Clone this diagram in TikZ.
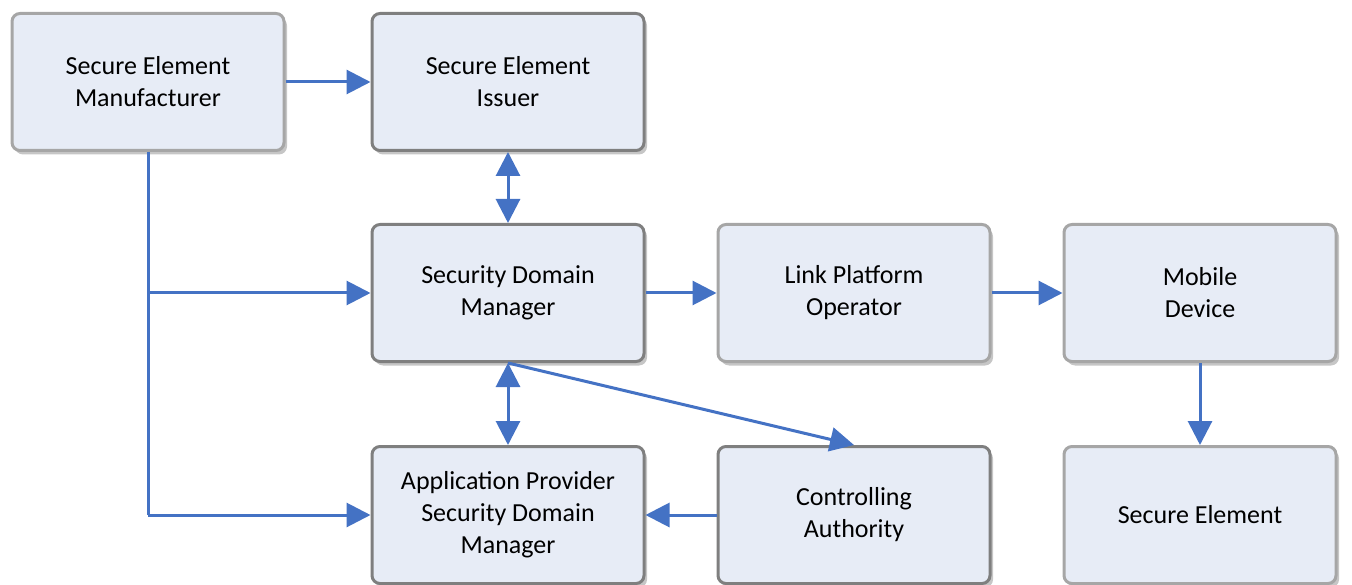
\documentclass[tikz,border=0pt]{standalone}
\usepackage{fontspec}
\setmainfont{Carlito}
\usetikzlibrary{shadows,arrows.meta}
\definecolor{boxfill}{HTML}{E7ECF6}
\definecolor{lightborder}{HTML}{A6A6A6}
\definecolor{darkborder}{HTML}{7F7F7F}
\definecolor{conn}{HTML}{4472C4}
\tikzset{
  box/.style={draw=#1, line width=3pt, fill=boxfill, rounded corners=8pt,
    minimum width=272pt, minimum height=137pt, align=center, inner sep=0pt,
    font=\fontsize{26}{32}\selectfont,
    drop shadow={opacity=0.45, shadow xshift=3pt, shadow yshift=-4pt}},
  conline/.style={draw=conn, line width=3pt},
  arr/.style={conline, -{Triangle[length=24pt,width=24pt]}},
  darr/.style={conline, {Triangle[length=24pt,width=24pt]}-{Triangle[length=24pt,width=24pt]}}
}
\begin{document}
\begin{tikzpicture}[x=1pt,y=-1pt]
\useasboundingbox (0,0) rectangle (1352,585);
\node[box=lightborder] (sem) at (148,82) {Secure Element\\Manufacturer};
\node[box=darkborder] (sei) at (508,82) {Secure Element\\Issuer};
\node[box=darkborder] (sdm) at (508,293) {Security Domain\\Manager};
\node[box=lightborder] (lpo) at (854,293) {Link Platform\\Operator};
\node[box=lightborder] (md) at (1200,293) {Mobile\\Device};
\node[box=darkborder] (ap) at (508,515) {Application Provider\\Security Domain\\Manager};
\node[box=darkborder] (ca) at (854,515) {Controlling\\Authority};
\node[box=lightborder] (se) at (1200,515) {Secure Element};
\coordinate (branch) at (148,293);
\coordinate (corner) at (148,515);
\draw[arr] (sem.east) -- (sei.west);
\draw[darr] (sei.south) -- (sdm.north);
\draw[darr] (sdm.south) -- (ap.north);
\draw[arr] (sdm.east) -- (lpo.west);
\draw[arr] (lpo.east) -- (md.west);
\draw[arr] (md.south) -- (se.north);
\draw[arr] (sdm.south) -- (ca.north);
\draw[arr] (ca.west) -- (ap.east);
\draw[conline] (sem.south) -- (corner);
\draw[arr] (corner) -- (ap.west);
\draw[arr] (branch) -- (sdm.west);
\end{tikzpicture}
\end{document}
